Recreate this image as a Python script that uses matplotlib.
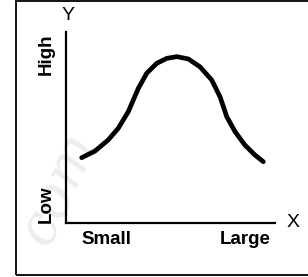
import matplotlib.pyplot as plt
from matplotlib.patches import Rectangle

# Curva (ejes sin unidades, 0-10)
curve_x = [0.75, 1.39, 2.02, 2.50, 2.98, 3.46, 3.86, 4.34, 4.82, 5.30,
           5.85, 6.41, 6.97, 7.37, 7.69, 8.09, 8.56, 9.04, 9.44]
curve_y = [3.42, 3.77, 4.35, 4.96, 5.83, 7.05, 7.84, 8.36, 8.62, 8.71,
           8.59, 8.18, 7.49, 6.61, 5.57, 4.78, 4.08, 3.56, 3.21]

x_tick_pos = [1.96, 8.56]
x_tick_labels = ["Small", "Large"]
y_tick_pos = [1.0, 8.85]
y_tick_labels = ["Low", "High"]

plt.rcParams['font.family'] = ['Liberation Sans', 'DejaVu Sans']

fig = plt.figure(figsize=(3.08, 2.77), dpi=100)
ax = fig.add_axes([0.2143, 0.1949, 0.6786, 0.6895])
ax.patch.set_alpha(0)

ax.plot(curve_x, curve_y, color='black', linewidth=3.4,
        solid_capstyle='round', solid_joinstyle='round')

ax.set_xlim(0, 10)
ax.set_ylim(0, 10)
for side in ['top', 'right']:
    ax.spines[side].set_visible(False)
for side in ['left', 'bottom']:
    ax.spines[side].set_linewidth(1.6)

ax.set_xticks(x_tick_pos)
ax.set_xticklabels(x_tick_labels, fontsize=13.5, fontweight='bold')
ax.set_yticks(y_tick_pos)
ax.set_yticklabels(y_tick_labels, fontsize=13.5, fontweight='bold', rotation=90, va='center')
ax.tick_params(axis='x', length=0, pad=6)
ax.tick_params(axis='y', length=0, pad=8)

ax.text(0.01, 1.089, "Y", transform=ax.transAxes, ha='center', va='center', fontsize=14)
ax.text(1.086, 0.005, "X", transform=ax.transAxes, ha='center', va='center', fontsize=14)

# marca de agua tenue
fig.text(0.19, 0.32, "com", fontsize=40, style='italic', family='DejaVu Serif',
         color='#ededed', rotation=65, ha='center', va='center', zorder=-1)

# marco
fig.add_artist(Rectangle((16 / 308, 2 / 277), 1.2, 274 / 277, transform=fig.transFigure,
                         fill=False, edgecolor='black', linewidth=1.3))

fig.savefig("out.png", dpi=100)
